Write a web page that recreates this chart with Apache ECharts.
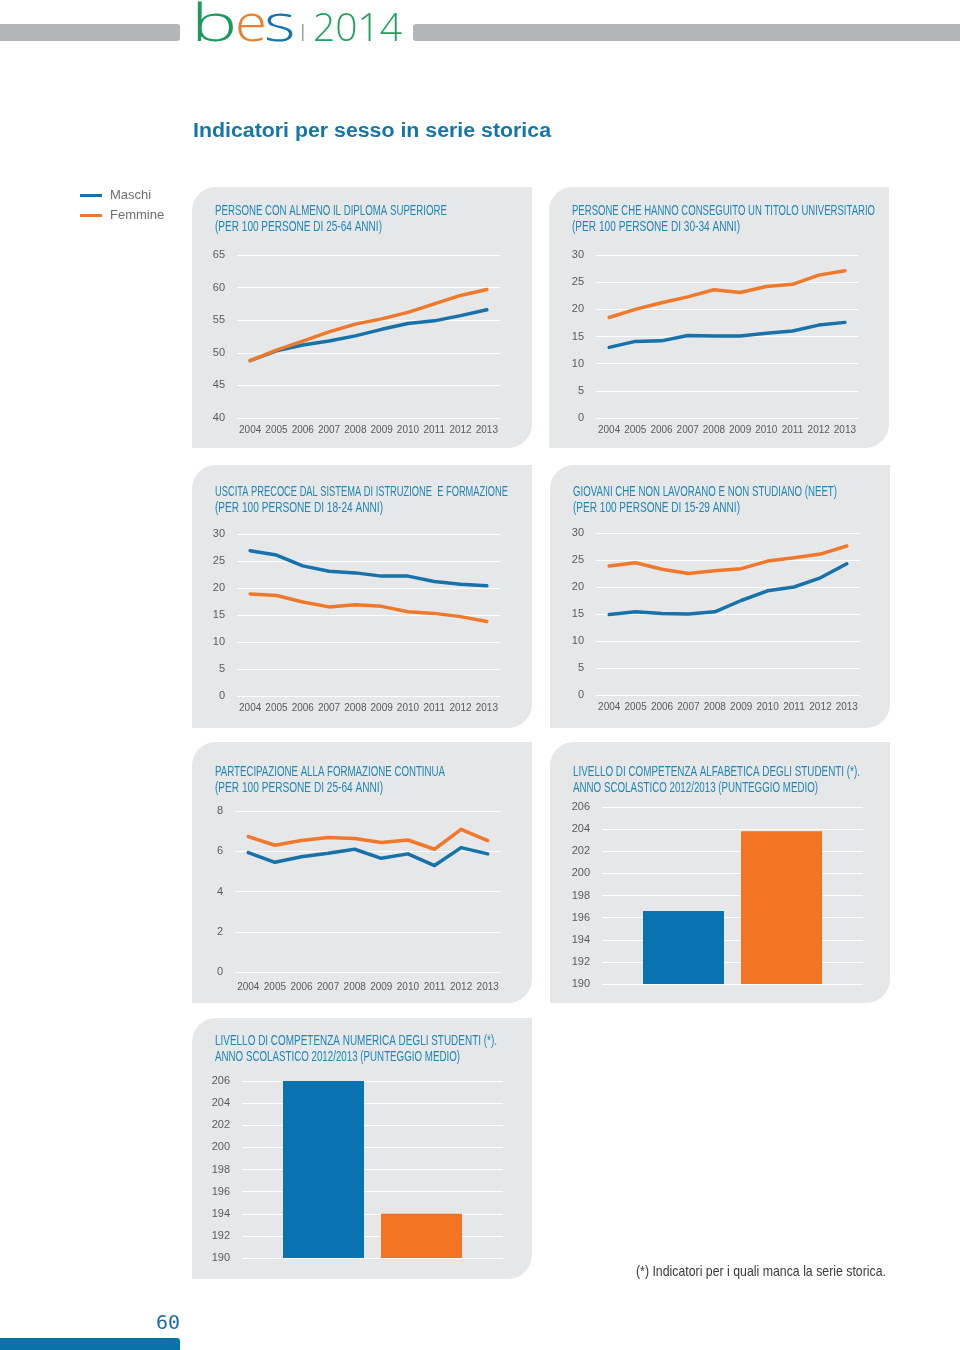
<!DOCTYPE html>
<html>
<head>
<meta charset="utf-8">
<script src="https://cdn.jsdelivr.net/npm/echarts@6/dist/echarts.min.js"></script>
<style>
html,body{margin:0;padding:0;background:#fff;}
#main{width:960px;height:1350px;}
</style>
</head>
<body>
<div id="main"></div>
<script>
// ---------- data ----------
var years = ['2004','2005','2006','2007','2008','2009','2010','2011','2012','2013'];
var seriesNames = ['Maschi','Femmine'];

var diplomaM = [48.8, 50.3, 51.2, 51.8, 52.6, 53.6, 54.5, 54.9, 55.7, 56.6];
var diplomaF = [48.8, 50.4, 51.8, 53.2, 54.4, 55.2, 56.2, 57.5, 58.8, 59.7];

var laureaM = [13.0, 14.1, 14.2, 15.2, 15.1, 15.1, 15.6, 16.0, 17.1, 17.6];
var laureaF = [18.5, 20.0, 21.2, 22.3, 23.6, 23.1, 24.2, 24.6, 26.3, 27.1];

var uscitaM = [26.9, 26.1, 24.1, 23.1, 22.8, 22.2, 22.2, 21.2, 20.7, 20.4];
var uscitaF = [18.9, 18.6, 17.4, 16.5, 16.9, 16.6, 15.6, 15.3, 14.7, 13.8];

var neetM = [14.9, 15.4, 15.1, 15.0, 15.4, 17.5, 19.3, 20.0, 21.7, 24.3];
var neetF = [23.9, 24.5, 23.3, 22.5, 23.0, 23.4, 24.8, 25.4, 26.1, 27.6];

var formM = [5.93, 5.45, 5.73, 5.90, 6.10, 5.65, 5.87, 5.29, 6.18, 5.87];
var formF = [6.73, 6.30, 6.53, 6.68, 6.63, 6.43, 6.56, 6.10, 7.09, 6.53];

var barCategory = ['2012/2013'];
var alfaM = [196.6];
var alfaF = [203.8];
var numM = [206.0];
var numF = [194.0];

var titles = [
  ['PERSONE CON ALMENO IL DIPLOMA SUPERIORE', '(PER 100 PERSONE DI 25-64 ANNI)'],
  ['PERSONE CHE HANNO CONSEGUITO UN TITOLO UNIVERSITARIO', '(PER 100 PERSONE DI 30-34 ANNI)'],
  ['USCITA PRECOCE DAL SISTEMA DI ISTRUZIONE  E FORMAZIONE', '(PER 100 PERSONE DI 18-24 ANNI)'],
  ['GIOVANI CHE NON LAVORANO E NON STUDIANO (NEET)', '(PER 100 PERSONE DI 15-29 ANNI)'],
  ['PARTECIPAZIONE ALLA FORMAZIONE CONTINUA', '(PER 100 PERSONE DI 25-64 ANNI)'],
  ['LIVELLO DI COMPETENZA ALFABETICA DEGLI STUDENTI (*).', 'ANNO SCOLASTICO 2012/2013 (PUNTEGGIO MEDIO)'],
  ['LIVELLO DI COMPETENZA NUMERICA DEGLI STUDENTI (*).', 'ANNO SCOLASTICO 2012/2013 (PUNTEGGIO MEDIO)']
];
var mainTitle = 'Indicatori per sesso in serie storica';
var footnote = '(*) Indicatori per i quali manca la serie storica.';
var pageNumber = '60';

// ---------- styles ----------
var SANS = "'Liberation Sans', Arial, sans-serif";
var BLUE = '#1672a8', ORANGE = '#f0782a';
var BAR_BLUE = '#0873ae', BAR_ORANGE = '#f27321';
var LABEL = '#5a5b5d', TITLE = '#1f86b4', PANEL = '#e6e7e9';

// horizontal condensing of graphic texts to mimic the condensed typeface
var mctx = document.createElement('canvas').getContext('2d');
function fitScale(text, font, target) {
  mctx.font = font;
  var w = mctx.measureText(text).width;
  return w > 0 ? target / w : 1;
}

// panel boxes [x, y, w, h]
var panels = [
  [192, 187, 340, 261], [549, 187, 340, 261],
  [192, 465, 340, 263], [550, 465, 340, 263],
  [192, 742, 340, 261], [550, 742, 340, 261],
  [192, 1018, 340, 261]
];
var titlePos = [[215, 211], [572, 211], [215, 492], [573, 492], [215, 772], [573, 772], [215, 1041]];
var titleWidths = [[232, 167], [303, 168], [293, 168], [264, 167], [230, 168], [287, 245], [282, 245]];

// grids
var grids = [
  {left: 237, top: 255, width: 263, height: 163},
  {left: 596, top: 255, width: 262, height: 163},
  {left: 237, top: 534, width: 263, height: 162},
  {left: 596, top: 533, width: 264, height: 162},
  {left: 235, top: 811, width: 266, height: 161},
  {left: 602, top: 807, width: 261, height: 177},
  {left: 242, top: 1081, width: 261, height: 177}
];
var yRanges = [[40, 65, 5], [0, 30, 5], [0, 30, 5], [0, 30, 5], [0, 8, 2], [190, 206, 2], [190, 206, 2]];

var xAxes = [], yAxes = [];
grids.forEach(function (g, i) {
  var isBar = i >= 5;
  xAxes.push({
    type: 'category', gridIndex: i, data: isBar ? barCategory : years, boundaryGap: true,
    axisLine: {show: false}, axisTick: {show: false},
    axisLabel: {show: !isBar, interval: 0, color: LABEL, fontSize: 10, fontFamily: SANS, margin: i === 4 ? 10 : 7}
  });
  yAxes.push({
    type: 'value', gridIndex: i, min: yRanges[i][0], max: yRanges[i][1], interval: yRanges[i][2],
    axisLine: {show: false}, axisTick: {show: false},
    splitLine: {show: true, lineStyle: {color: '#ffffff', width: 1}},
    axisLabel: {color: LABEL, fontSize: 11, fontFamily: SANS, margin: 12}
  });
});

function lineSeries(name, data, idx, color) {
  return {
    name: name, type: 'line', xAxisIndex: idx, yAxisIndex: idx, data: data,
    showSymbol: false, symbol: 'none', color: color,
    lineStyle: {color: color, width: 3.5, cap: 'round', join: 'round'}, z: 3
  };
}
function barSeries(name, data, idx, color) {
  return {
    name: name, type: 'bar', xAxisIndex: idx, yAxisIndex: idx, data: data,
    barWidth: 81, barGap: '21%', color: color, itemStyle: {color: color}
  };
}

var series = [
  lineSeries(seriesNames[0], diplomaM, 0, BLUE), lineSeries(seriesNames[1], diplomaF, 0, ORANGE),
  lineSeries(seriesNames[0], laureaM, 1, BLUE), lineSeries(seriesNames[1], laureaF, 1, ORANGE),
  lineSeries(seriesNames[0], uscitaM, 2, BLUE), lineSeries(seriesNames[1], uscitaF, 2, ORANGE),
  lineSeries(seriesNames[0], neetM, 3, BLUE), lineSeries(seriesNames[1], neetF, 3, ORANGE),
  lineSeries(seriesNames[0], formM, 4, BLUE), lineSeries(seriesNames[1], formF, 4, ORANGE),
  barSeries(seriesNames[0], alfaM, 5, BAR_BLUE), barSeries(seriesNames[1], alfaF, 5, BAR_ORANGE),
  barSeries(seriesNames[0], numM, 6, BAR_BLUE), barSeries(seriesNames[1], numF, 6, BAR_ORANGE)
];

// ---------- graphics ----------
var elements = [];
// header bars
elements.push({type: 'rect', shape: {x: 0, y: 24, width: 180, height: 17, r: [0, 3, 3, 0]}, style: {fill: '#b3b5b8'}, z: -20});
elements.push({type: 'rect', shape: {x: 413, y: 24, width: 547, height: 17, r: [3, 0, 0, 3]}, style: {fill: '#b3b5b8'}, z: -20});
// logo "bes | 2014"
var LOGO_FONT = '300 52px "Open Sans", sans-serif';
elements.push({type: 'text', x: 191, y: 0, scaleX: 1.5, originX: 0, style: {text: 'b', fill: '#1b9a5b', font: LOGO_FONT, textAlign: 'left', textVerticalAlign: 'top', verticalAlign: 'top'}, z: -10});
elements.push({type: 'text', x: 235, y: 0, scaleX: 1.12, originX: 0, style: {text: 'e', fill: '#ee7d2b', font: LOGO_FONT, textAlign: 'left', textVerticalAlign: 'top', verticalAlign: 'top'}, z: -10});
elements.push({type: 'text', x: 264, y: 0, scaleX: 1.3, originX: 0, style: {text: 's', fill: '#1574b3', font: LOGO_FONT, textAlign: 'left', textVerticalAlign: 'top', verticalAlign: 'top'}, z: -10});
elements.push({type: 'rect', shape: {x: 302, y: 24, width: 1.5, height: 17}, style: {fill: '#8aa898'}, z: -10});
elements.push({type: 'text', x: 313, y: 10, style: {text: '2014', fill: '#22a060', font: '300 39px "Open Sans", sans-serif', textAlign: 'left', textVerticalAlign: 'top', verticalAlign: 'top'}, z: -10});

// main title
var MT_FONT = 'bold 20px ' + SANS;
elements.push({type: 'text', x: 193, y: 131, scaleX: fitScale(mainTitle, MT_FONT, 358), originX: 0,
  style: {text: mainTitle, fill: '#1577a8', font: MT_FONT, textAlign: 'left', textVerticalAlign: 'middle', verticalAlign: 'middle'}});

// panels
panels.forEach(function (p) {
  elements.push({type: 'rect', shape: {x: p[0], y: p[1], width: p[2], height: p[3], r: [24, 0, 24, 0]}, style: {fill: PANEL}, z: -30});
});
// panel titles
var PT_FONT = '15px ' + SANS;
titles.forEach(function (t, i) {
  var pos = titlePos[i];
  for (var k = 0; k < 2; k++) {
    elements.push({type: 'text', x: pos[0], y: pos[1] + 16 * k, originX: 0,
      scaleX: fitScale(t[k], PT_FONT, titleWidths[i][k]),
      style: {text: t[k], fill: TITLE, font: PT_FONT, textAlign: 'left', textVerticalAlign: 'middle', verticalAlign: 'middle'}});
  }
});
// footnote
var FN_FONT = '15px ' + SANS;
elements.push({type: 'text', x: 886, y: 1272, originX: 0, scaleX: fitScale(footnote, FN_FONT, 250),
  style: {text: footnote, fill: '#3a3a3a', font: FN_FONT, textAlign: 'right', textVerticalAlign: 'middle', verticalAlign: 'middle'}});
// page number and bottom bar
elements.push({type: 'text', x: 180, y: 1324, style: {text: pageNumber, fill: '#1b6c9c', font: '20px "DejaVu Sans Mono", monospace', textAlign: 'right', textVerticalAlign: 'middle', verticalAlign: 'middle'}});
elements.push({type: 'rect', shape: {x: 0, y: 1338, width: 180, height: 14, r: [0, 3, 0, 0]}, style: {fill: '#0a72aa'}});

var option = {
  animation: false,
  backgroundColor: '#ffffff',
  legend: {
    data: seriesNames, orient: 'vertical', left: 80, top: 189, padding: 0, icon: 'rect',
    itemWidth: 22, itemHeight: 3, itemGap: 7, selectedMode: false,
    textStyle: {color: '#6d6e70', fontSize: 13, fontFamily: SANS, padding: [0, 0, 0, 3]}
  },
  grid: grids,
  xAxis: xAxes,
  yAxis: yAxes,
  series: series,
  graphic: {elements: elements}
};

var chart = echarts.init(document.getElementById('main'), null, {renderer: 'canvas'});
chart.setOption(option);
</script>
</body>
</html>
